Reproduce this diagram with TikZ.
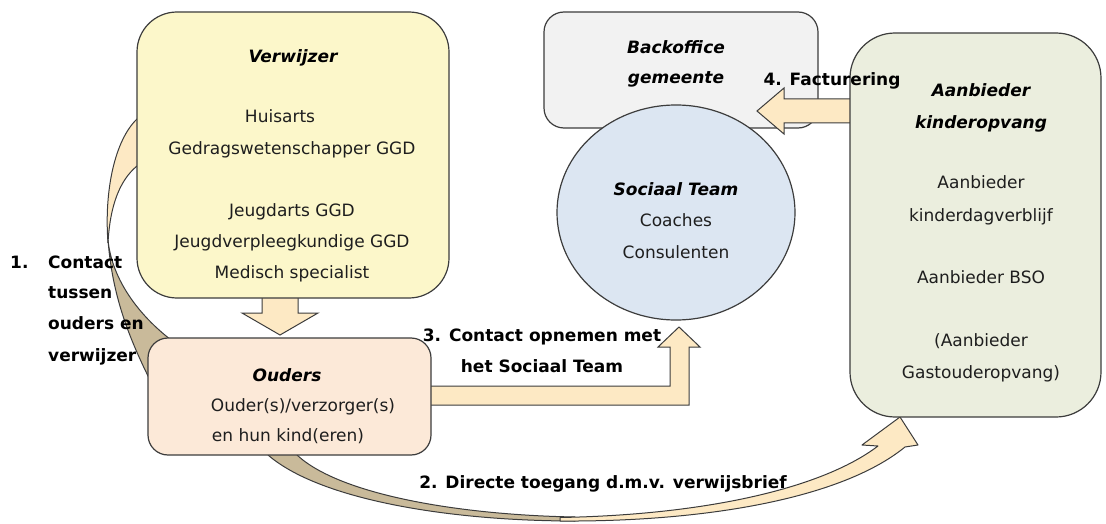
\documentclass[tikz,border=0pt]{standalone}
\usepackage{fontspec}
\setmainfont{DejaVu Sans}
\usetikzlibrary{shapes.geometric}
\definecolor{bordc}{RGB}{60,60,60}
\definecolor{txtc}{RGB}{30,30,30}
\definecolor{verwc}{RGB}{252,247,202}
\definecolor{oudc}{RGB}{252,233,216}
\definecolor{backc}{RGB}{242,242,242}
\definecolor{teamc}{RGB}{220,230,242}
\definecolor{aanc}{RGB}{235,238,222}
\definecolor{arrowc}{RGB}{253,233,196}
\definecolor{tanc}{RGB}{201,186,154}
\begin{document}
\begin{tikzpicture}[x=1pt,y=-1pt,
  box/.style={draw=bordc, line width=1.2pt, inner sep=0pt},
  txt/.style={anchor=base, inner sep=0pt, text=txtc, font=\fontsize{17}{20}\selectfont},
  head/.style={anchor=base, inner sep=0pt, text=black, font=\fontsize{17}{20}\selectfont\bfseries\itshape},
  lbl/.style={anchor=base, inner sep=0pt, text=black, font=\fontsize{17}{20}\selectfont\bfseries},
  blk/.style={draw=bordc, line width=1pt, fill=arrowc, line join=miter},
  band/.style={draw=bordc, line width=1pt, line join=round}]
\useasboundingbox (0,0) rectangle (1106,524);

% arrow 1 (curved, behind boxes)
\path[band, fill=arrowc] (155,115) -- (137,119) .. controls (115,140) and (104,190) .. (108,243)
   .. controls (110,205) and (120,180) .. (137,166) -- (155,166) -- cycle;
\path[band, fill=tanc] (108,240) .. controls (112,290) and (125,330) .. (150,380)
   -- (185,350) .. controls (140,320) and (112,280) .. (108,240) -- cycle;

% arrow 2 (curved, behind boxes)
\path[band, fill=tanc] (300,440) -- (297,455) .. controls (340,495) and (460,515) .. (575,517)
   -- (575,521) .. controls (450,521) and (320,500) .. (268,455) -- (268,440) -- cycle;
\path[band, fill=arrowc] (560,517.5) .. controls (700,515) and (820,490) .. (878,446)
   -- (862,445) -- (900,417) -- (918,445) -- (905,447)
   .. controls (840,500) and (700,522) .. (560,521) -- cycle;

% down arrow Verwijzer -> Ouders
\path[blk] (262,290) -- (262,313) -- (242,313) -- (280,335) -- (318,313) -- (298,313) -- (298,290) -- cycle;
% arrow 3 Ouders -> Sociaal Team
\path[blk] (420,386) -- (670,386) -- (670,347) -- (658,347) -- (679,327) -- (700,347) -- (689,347) -- (689,405) -- (420,405) -- cycle;

% boxes
\node[box, fill=verwc, rounded corners=40pt, minimum width=312pt, minimum height=286pt] (verw) at (293,155) {};
\node[box, fill=oudc, rounded corners=20pt, minimum width=283pt, minimum height=117pt] (ouders) at (289.5,396.5) {};
\node[box, fill=backc, rounded corners=20pt, minimum width=274pt, minimum height=116pt] (back) at (681,70) {};
\node[box, fill=teamc, ellipse, minimum width=238pt, minimum height=215pt] (team) at (676,212.5) {};

% arrow 4 Aanbieder -> Backoffice
\path[blk] (860,99) -- (784,99) -- (784,88) -- (757,111) -- (784,134) -- (784,123) -- (860,123) -- cycle;

\node[box, fill=aanc, rounded corners=45pt, minimum width=251pt, minimum height=384pt] (aan) at (975.5,225) {};

% texts Verwijzer
\node[head] (t1) at (293,63) {Verwijzer};
\node[txt] (t2) at (280,123) {Huisarts};
\node[txt] (t3) at (292,155) {Gedragswetenschapper GGD};
\node[txt] (t4) at (292,216) {Jeugdarts GGD};
\node[txt] (t5) at (292,247) {Jeugdverpleegkundige GGD};
\node[txt] (t6) at (292,278) {Medisch specialist};
% Ouders
\node[head] (o1) at (287,381) {Ouders};
\node[txt] (o2) at (303,411) {Ouder(s)/verzorger(s)};
\node[txt] (o3) at (288,441) {en hun kind(eren)};
% Backoffice
\node[head] (b1) at (676,54) {Backoffice};
\node[head] (b2) at (676,84) {gemeente};
% Sociaal team
\node[head] (s1) at (676,195) {Sociaal Team};
\node[txt] (s2) at (676,226) {Coaches};
\node[txt] (s3) at (676,258) {Consulenten};
% Aanbieder
\node[head] (a1) at (981,97) {Aanbieder};
\node[head] (a2) at (981,129) {kinderopvang};
\node[txt] (a3) at (981,189) {Aanbieder};
\node[txt] (a4) at (981,221) {kinderdagverblijf};
\node[txt] (a5) at (981,283) {Aanbieder BSO};
\node[txt] (a6) at (981,346) {(Aanbieder};
\node[txt] (a7) at (981,378) {Gastouderopvang)};

% labels
\node[lbl, anchor=base west] (l1n) at (10,268) {1.};
\node[lbl, anchor=base west] (l1a) at (48,268) {Contact};
\node[lbl, anchor=base west] (l1b) at (48,298) {tussen};
\node[lbl, anchor=base west] (l1c) at (48,329) {ouders en};
\node[lbl, anchor=base west] (l1d) at (48,361) {verwijzer};
\node[lbl] (l3a) at (542,341) {3. Contact opnemen met};
\node[lbl] (l3b) at (542,372) {het Sociaal Team};
\node[lbl] (l2) at (603,488) {2. Directe toegang d.m.v. verwijsbrief};
\node[lbl] (l4) at (832,86) {4. Facturering};
\end{tikzpicture}
\end{document}
